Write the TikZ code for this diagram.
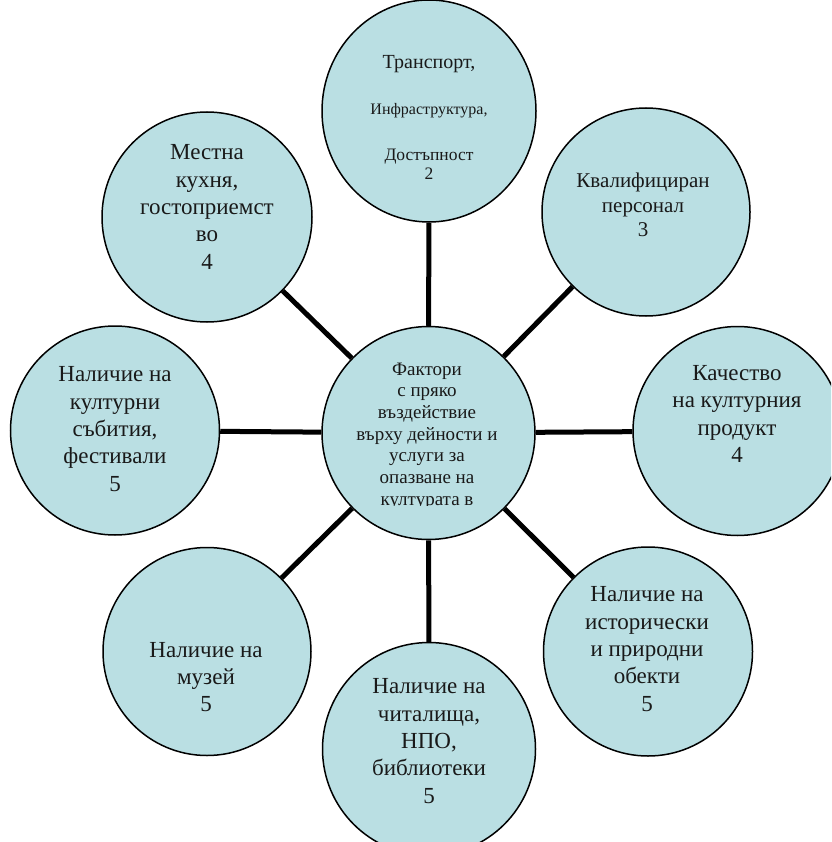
\documentclass[tikz,border=0pt]{standalone}
\usepackage{fontspec}
\setmainfont{LiberationSerif}[Extension=.ttf,UprightFont=*-Regular,BoldFont=*-Bold]
\usetikzlibrary{shapes.geometric}
\definecolor{bubble}{RGB}{186,223,227}
\definecolor{txt}{RGB}{25,25,25}
\tikzset{
  bub/.style={circle,draw=black,line width=1.5pt,fill=bubble,inner sep=0pt,minimum size=#1},
  conn/.style={draw=black,line width=5pt},
  lbl/.style={align=center,text=txt,inner sep=0pt,font=\rmfamily\fontsize{23}{27.3}\selectfont},
  lblsm/.style={align=center,text=txt,inner sep=0pt,font=\rmfamily\fontsize{21}{24.5}\selectfont},
  lblc/.style={align=center,text=txt,inner sep=0pt,font=\rmfamily\fontsize{19}{21.7}\selectfont}
}
\begin{document}
\begin{tikzpicture}[x=1pt,y=-1pt]
\useasboundingbox (0,0) rectangle (831,842);
\clip (0,0) rectangle (831,842);
% circles
\node[bub=213pt] (c) at (428.5,433) {};
\node[ellipse,draw=black,line width=1.5pt,fill=bubble,inner sep=0pt,minimum width=214pt,minimum height=222pt] (t) at (429,111) {};
\node[bub=208pt] (ur) at (646,212) {};
\node[bub=209pt] (r) at (737.5,431) {};
\node[bub=209pt] (lr) at (648,651.5) {};
\node[bub=213pt] (b) at (429,749) {};
\node[bub=208pt] (ll) at (207,651.5) {};
\node[bub=209pt] (l) at (115,430.5) {};
\node[bub=210pt] (ul) at (207,217) {};
% connectors
\foreach \n in {t,ur,r,lr,b,ll,l,ul}{\draw[conn] (c) -- (\n);}
% texts
\node[anchor=base,text=txt,inner sep=0pt,font=\rmfamily\fontsize{20}{24}\selectfont] (t1) at (429,69) {Транспорт,};
\node[anchor=base,text=txt,inner sep=0pt,font=\rmfamily\fontsize{16}{19}\selectfont] (t2) at (429,115) {Инфраструктура,};
\node[anchor=base,text=txt,inner sep=0pt,font=\rmfamily\fontsize{17.5}{20}\selectfont] (t3) at (429,161) {Достъпност};
\node[anchor=base,text=txt,inner sep=0pt,font=\rmfamily\fontsize{17.5}{20}\selectfont] (t4) at (429,180) {2};
\node[lblsm] (urt) at (643,205) {Квалифициран\\персонал\\3};
\node[lbl] (rt) at (737,414) {Качество\\на културния\\продукт\\4};
\node[lbl] (lrt) at (647,649) {Наличие на\\исторически\\и природни\\обекти\\5};
\node[lbl] (bt) at (429,741) {Наличие на\\читалища,\\НПО,\\библиотеки\\5};
\node[lbl] (llt) at (206,677) {Наличие на\\музей\\5};
\node[lbl] (lt) at (115,429) {Наличие на\\културни\\събития,\\фестивали\\5};
\node[lbl] (ult) at (207,207) {Местна\\кухня,\\гостоприемст\\во\\4};
\begin{scope}
\clip (320,340) rectangle (540,505);
\node[lblc] (ct) at (427,436) {Фактори\\с пряко\\въздействие\\върху дейности и\\услуги за\\опазване на\\културата в};
\end{scope}
\end{tikzpicture}
\end{document}
